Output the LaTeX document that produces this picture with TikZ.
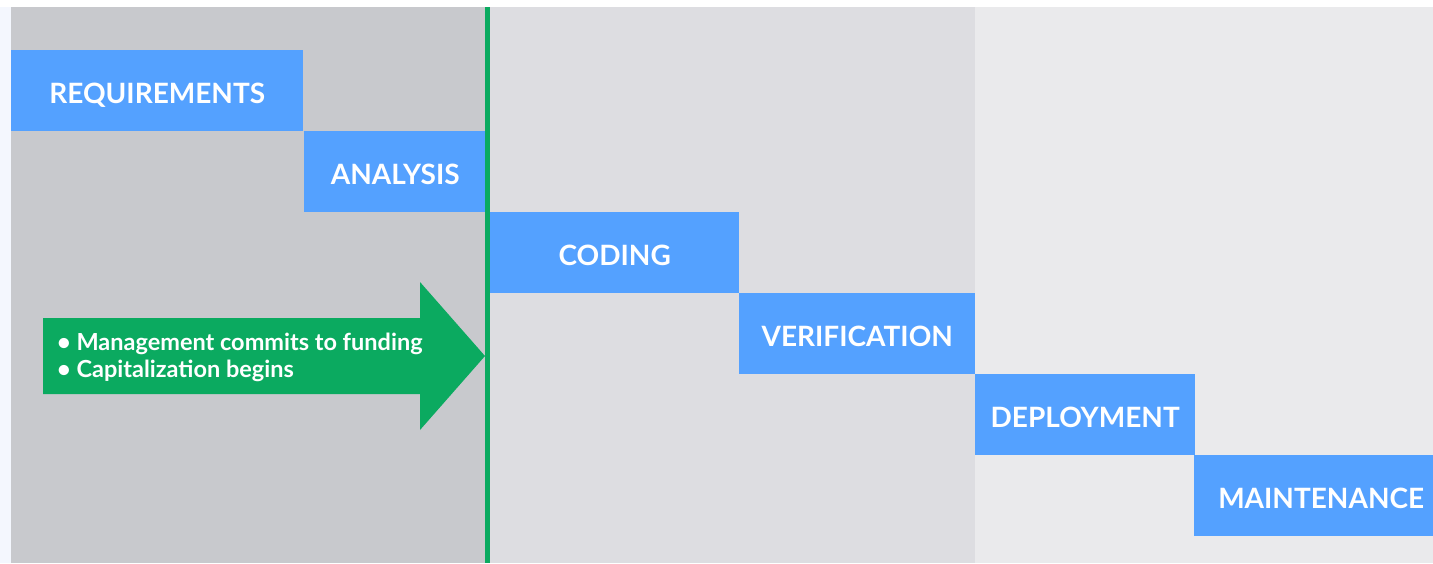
\documentclass[tikz,border=0pt]{standalone}
\usepackage{fontspec}
\setmainfont{Lato}
\definecolor{pageback}{HTML}{F4F7FE}
\definecolor{zoneA}{HTML}{C8C9CD}
\definecolor{zoneB}{HTML}{DDDDE1}
\definecolor{zoneC}{HTML}{EAEAEC}
\definecolor{phaseblue}{HTML}{54A1FF}
\definecolor{gategreen}{HTML}{0BAA60}
\begin{document}
\begin{tikzpicture}[x=1pt,y=-1pt,
  phase/.style={fill=phaseblue, text=white, inner sep=0pt, minimum height=81pt,
    anchor=north west, text height=25pt, text depth=0pt,
    font=\fontsize{28}{32}\selectfont\bfseries}]
  % page and the three background zones
  \fill[pageback] (0,0) rectangle (1433,563);
  \fill[white] (0,0) rectangle (1433,7);
  \useasboundingbox (0,0) rectangle (1433,563);
  \fill[zoneA] (11,7) rectangle (488,563);
  \fill[zoneB] (488,7) rectangle (975,563);
  \fill[zoneC] (975,7) rectangle (1433,563);
  % waterfall phases, each one step lower and further right
  \node[phase, minimum width=292pt] (req) at (11,50) {REQUIREMENTS};
  \node[phase, minimum width=182pt] (ana) at (304,131) {ANALYSIS};
  \node[phase, minimum width=249pt] (cod) at (490,212) {CODING};
  \node[phase, minimum width=236pt] (ver) at (739,293) {VERIFICATION};
  \node[phase, minimum width=220pt] (dep) at (975,374) {DEPLOYMENT};
  \node[phase, minimum width=254pt] (mai) at (1194,455) {MAINTENANCE};
  % funding gate line
  \coordinate (gtop) at (487.5,7);
  \coordinate (gbot) at (487.5,563);
  \draw[gategreen, line width=4.5pt] (gtop) -- (gbot);
  % commitment arrow
  \fill[gategreen] (43,318) -- (420,318) -- (420,282) -- (485,356) -- (420,430)
    -- (420,394) -- (43,394) -- cycle;
  \node[anchor=west, align=left, text=white, inner sep=0pt,
    font=\fontsize{23.5}{27}\selectfont\bfseries] (gate) at (57,357)
    {\textbullet{} Management commits to funding\\\textbullet{} Capitalization begins};
\end{tikzpicture}
\end{document}
